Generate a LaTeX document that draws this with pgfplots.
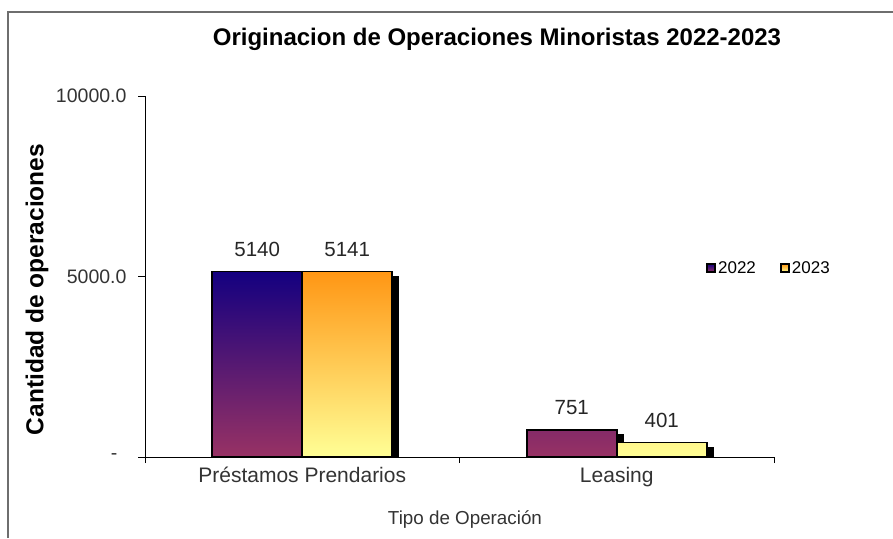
\documentclass[border=0pt]{standalone}
\usepackage{pgfplots}
\pgfplotsset{compat=1.18}
\usepackage{fontspec}
\setmainfont{Liberation Sans}
\definecolor{ctopA}{RGB}{20,0,128}
\definecolor{cbotA}{RGB}{152,50,100}
\definecolor{ctopB}{RGB}{255,150,20}
\definecolor{cbotB}{RGB}{255,255,150}
\definecolor{framegray}{RGB}{110,110,110}
\begin{document}
\begin{tikzpicture}
\useasboundingbox (0,0) rectangle (893pt,538pt);
\draw[framegray, line width=1.5pt] (8pt,0) -- (8pt,526pt) -- (893pt,526pt);
\begin{axis}[
  at={(145pt,81pt)}, anchor=south west,
  width=629pt, height=361pt, scale only axis,
  xmin=-0.5, xmax=1.5, ymin=0, ymax=10000,
  axis x line*=bottom, axis y line*=left,
  axis line style={black, line width=0.8pt},
  scaled y ticks=false,
  xtick={0,1}, xticklabels={Préstamos Prendarios, Leasing},
  minor xtick={-0.5,0.5,1.5},
  ytick={0,5000,10000}, yticklabels={-\hspace*{9pt},5000.0,10000.0},
  tick align=outside,
  major x tick style={draw=none},
  tick style={black, line width=0.8pt},
  major tick length=7pt, minor tick length=6pt,
  /pgf/number format/assume math mode=true,
  /pgf/number format/1000 sep={},
  xticklabel style={font=\fontsize{21}{25}\selectfont, text=black!80},
  yticklabel style={font=\fontsize{19.5}{23}\selectfont, text=black!80, xshift=-8pt},
  title={Originacion de Operaciones Minoristas 2022-2023},
  title style={font=\bfseries\fontsize{24}{28}\selectfont, at={(axis description cs:0.5596,1)}, anchor=base, yshift=44pt},
  ylabel={Cantidad de operaciones},
  ylabel style={font=\bfseries\fontsize{24.5}{28}\selectfont, at={(axis description cs:-0.1717,0.464)}, anchor=center},
  xlabel={Tipo de Operación},
  xlabel style={font=\fontsize{18.8}{22}\selectfont, text=black!80, at={(axis description cs:0.5087,-0.1745)}, anchor=center},
  legend style={draw=none, fill=none, legend columns=2, font=\fontsize{17}{19}\selectfont,
    at={(axis description cs:0.887,0.5235)}, anchor=west,
    /tikz/every even column/.append style={column sep=22pt}},
]
\addlegendimage{legend image code/.code={\draw[draw=black, line width=2pt, top color=ctopA, bottom color=cbotA] (0pt,-4pt) rectangle (8pt,4pt);}}
\addlegendentry{2022}
\addlegendimage{legend image code/.code={\draw[draw=black, line width=2pt, top color=ctopB, bottom color=cbotB] (0pt,-4pt) rectangle (8pt,4pt);}}
\addlegendentry{2023}
% shadow of 2022
\addplot[ybar, bar shift=-39pt, bar width=90pt, fill=black, draw=black, line width=1.8pt, yshift=-5pt, forget plot]
  coordinates {(0,5140) (1,751)};
\addplot[ybar, bar shift=-45pt, bar width=90pt, draw=black, line width=1.8pt, top color=ctopA, bottom color=cbotA,
  nodes near coords,
  every node near coord/.append style={font=\fontsize{20.5}{24}\selectfont, text=black!85, anchor=south, yshift=10.5pt, xshift=-45pt},
  forget plot]
  coordinates {(0,5140) (1,751)};
% shadow of 2023
\addplot[ybar, bar shift=51pt, bar width=90pt, fill=black, draw=black, line width=1.8pt, yshift=-5pt, forget plot]
  coordinates {(0,5141) (1,401)};
\addplot[ybar, bar shift=45pt, bar width=90pt, draw=black, line width=1.8pt, top color=ctopB, bottom color=cbotB,
  nodes near coords,
  every node near coord/.append style={font=\fontsize{20.5}{24}\selectfont, text=black!85, anchor=south, yshift=10.5pt, xshift=45pt},
  forget plot]
  coordinates {(0,5141) (1,401)};
\end{axis}
\end{tikzpicture}
\end{document}
